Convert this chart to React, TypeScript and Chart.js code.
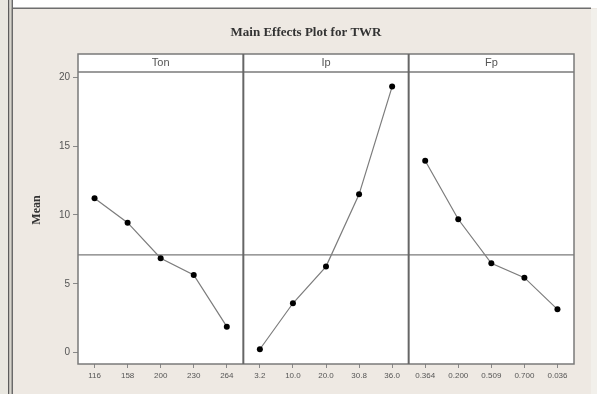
import { useEffect, useRef } from "react";
import { Chart, registerables } from "chart.js";

Chart.register(...registerables);

const factorNames = ["Ton", "Ip", "Fp"];
const tonLabels = ["116", "158", "200", "230", "264"];
const ipLabels = ["3.2", "10.0", "20.0", "30.8", "36.0"];
const fpLabels = ["0.364", "0.200", "0.509", "0.700", "0.036"];
const tonMeans = [11.21, 9.44, 6.86, 5.64, 1.89];
const ipMeans = [0.25, 3.59, 6.25, 11.5, 19.32];
const fpMeans = [13.94, 9.69, 6.49, 5.45, 3.15];
const grandMean = 7.1;
const yTicks = [0, 5, 10, 15, 20];
const chartTitle = "Main Effects Plot for TWR";
const yTitle = "Mean";

const levelLabels = [tonLabels, ipLabels, fpLabels];
const factorMeans = [tonMeans, ipMeans, fpMeans];
const nLevels = 5;
const allLabels = levelLabels.flat();

const decor = {
  id: "decor",
  beforeDraw(chart: any) {
    const { ctx, width, height, chartArea } = chart;
    ctx.save();
    // window frame
    ctx.fillStyle = "#EEE9E3";
    ctx.fillRect(0, 0, width, height);
    ctx.fillStyle = "#ffffff";
    ctx.fillRect(0, 0, width, 8);
    ctx.fillStyle = "#E9E7E0";
    ctx.fillRect(0, 0, 8, height);
    ctx.fillStyle = "#5c5c5c";
    ctx.fillRect(8, 0, 1.5, height);
    ctx.fillStyle = "#d6d4cc";
    ctx.fillRect(9.5, 0, 2, height);
    ctx.fillStyle = "#6a6a6a";
    ctx.fillRect(11.5, 0, 1.5, height);
    ctx.fillStyle = "#6e6e6e";
    ctx.fillRect(13, 7.5, 578, 1.5);
    ctx.fillStyle = "#F2F0EB";
    ctx.fillRect(591, 9, 6, height - 9);

    // plot & header background
    ctx.fillStyle = "#ffffff";
    ctx.fillRect(chartArea.left, 54, chartArea.right - chartArea.left, chartArea.bottom - 54);

    // title
    ctx.fillStyle = "#333333";
    ctx.font = "bold 13px 'Liberation Serif'";
    ctx.textAlign = "center";
    ctx.textBaseline = "middle";
    ctx.fillText(chartTitle, 306, 33);

    // y title
    ctx.translate(37, 210);
    ctx.rotate(-Math.PI / 2);
    ctx.font = "bold 12px 'Liberation Serif'";
    ctx.fillText(yTitle, 0, 0);
    ctx.restore();
  },
  afterDraw(chart: any) {
    const { ctx, chartArea } = chart;
    const xs = chart.scales.x;
    ctx.save();
    ctx.strokeStyle = "#7a7a7a";
    ctx.lineWidth = 1.5;
    ctx.strokeRect(chartArea.left, 54, chartArea.right - chartArea.left, chartArea.bottom - 54);
    ctx.beginPath();
    ctx.moveTo(chartArea.left, 72);
    ctx.lineTo(chartArea.right, 72);
    ctx.stroke();
    ctx.strokeStyle = "#666666";
    ctx.lineWidth = 2;
    for (let f = 1; f < factorNames.length; f++) {
      const px = xs.getPixelForValue(f * nLevels - 0.5);
      ctx.beginPath();
      ctx.moveTo(px, 54);
      ctx.lineTo(px, chartArea.bottom);
      ctx.stroke();
    }
    ctx.fillStyle = "#555555";
    ctx.font = "11px 'Liberation Sans'";
    ctx.textAlign = "center";
    ctx.textBaseline = "middle";
    factorNames.forEach((name, f) => {
      const a = xs.getPixelForValue(f * nLevels - 0.5);
      const b = xs.getPixelForValue((f + 1) * nLevels - 0.5);
      ctx.fillText(name, (a + b) / 2, 63);
    });
    ctx.restore();
  },
};

export default function App() {
  const ref = useRef<HTMLCanvasElement | null>(null);
  useEffect(() => {
    document.body.style.margin = "0";
    const datasets: any[] = factorMeans.map((means, f) => ({
      label: factorNames[f],
      data: means.map((v, i) => ({ x: f * nLevels + i, y: v })),
      borderColor: "#7c7c7c",
      borderWidth: 1.2,
      pointRadius: 3,
      pointBackgroundColor: "#000000",
      pointBorderColor: "#000000",
      pointBorderWidth: 0,
      showLine: true,
      fill: false,
    }));
    datasets.push({
      label: "Mean",
      data: [
        { x: -0.5, y: grandMean },
        { x: factorNames.length * nLevels - 0.5, y: grandMean },
      ],
      borderColor: "#7a7a7a",
      borderWidth: 1.2,
      pointRadius: 0,
      showLine: true,
      fill: false,
    });
    const chart = new Chart(ref.current as HTMLCanvasElement, {
      type: "scatter",
      data: { datasets },
      options: {
        animation: false,
        responsive: false,
        layout: { padding: { left: 0, top: 72, right: 23, bottom: 0 } },
        plugins: { legend: { display: false }, tooltip: { enabled: false }, title: { display: false } },
        scales: {
          x: {
            type: "linear",
            min: -0.5,
            max: factorNames.length * nLevels - 0.5,
            afterFit: (s: any) => {
              s.height = 30;
            },
            afterBuildTicks: (s: any) => {
              s.ticks = allLabels.map((_, i) => ({ value: i }));
            },
            border: { display: false },
            grid: { display: true, drawOnChartArea: false, drawTicks: true, tickLength: 4, color: "#888888" },
            ticks: {
              autoSkip: false,
              maxRotation: 0,
              minRotation: 0,
              padding: 3,
              color: "#555555",
              font: { family: "'Liberation Sans'", size: 8 },
              callback: (v: any) => allLabels[Math.round(Number(v))] ?? "",
            },
          },
          y: {
            min: -0.82,
            max: 20.38,
            afterFit: (s: any) => {
              s.width = 78;
            },
            afterBuildTicks: (s: any) => {
              s.ticks = yTicks.map((v) => ({ value: v }));
            },
            border: { display: false },
            grid: { display: true, drawOnChartArea: false, drawTicks: true, tickLength: 5, color: "#888888" },
            ticks: {
              padding: 3,
              color: "#555555",
              font: { family: "'Liberation Sans'", size: 10 },
            },
          },
        },
      },
      plugins: [decor],
    });
    return () => chart.destroy();
  }, []);
  return <canvas ref={ref} width={597} height={394} style={{ display: "block" }} />;
}
